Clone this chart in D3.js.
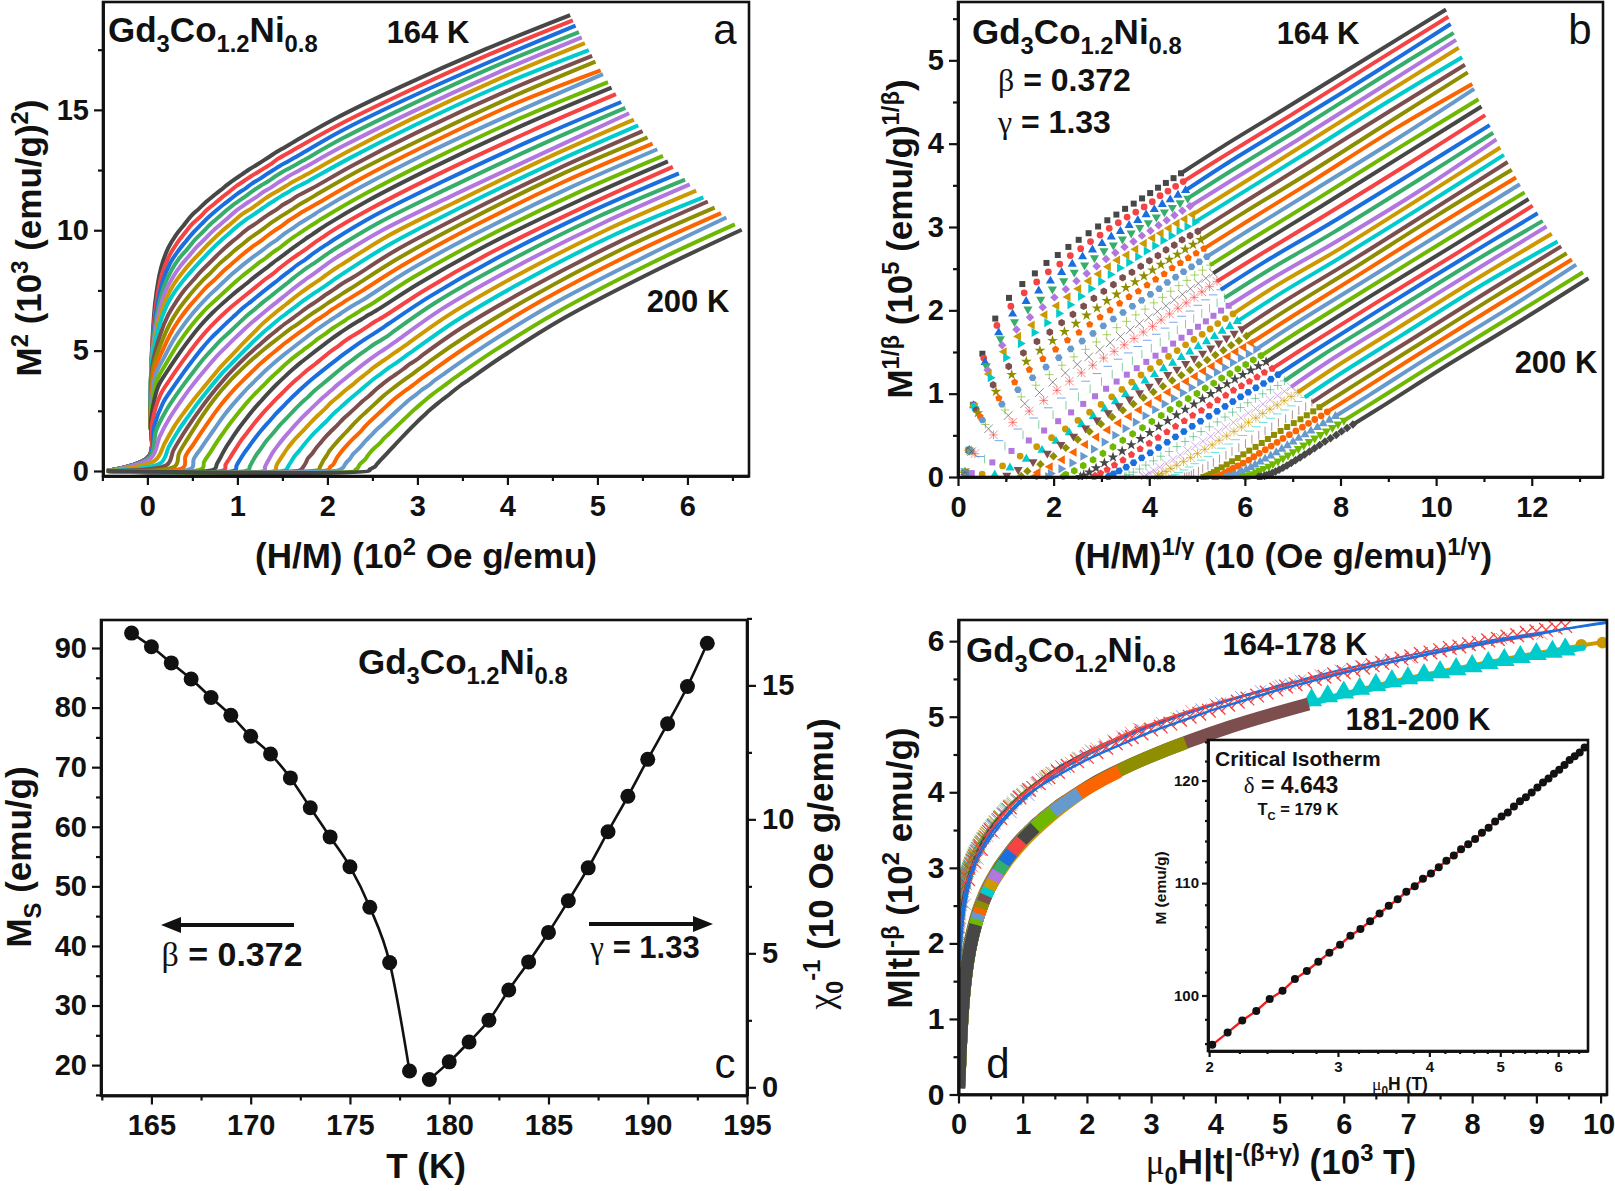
<!DOCTYPE html>
<html>
<head>
<meta charset="utf-8">
<script src="https://cdn.jsdelivr.net/npm/d3@7"></script>
<style>
  html, body { margin: 0; background: #fff; }
  text { font-family: "Liberation Sans", Arial, sans-serif; fill: #111; }
  .axis path, .axis line { stroke: #111; }
  .axis path { stroke-width: 2.6; }
  .axis line { stroke-width: 2.2; }
</style>
</head>
<body>
<script>
// isotherm temperatures (K), one row of M per temperature
var temps = d3.range(164, 201);
// applied field steps (Oe), one column of M per step
var fieldsOe = [1000,2000,3000,4000,5000,6000,7000,8000,9000,10000,11000,12000,13000,14000,15000,16000,17000,18000,19000,20000,21000,22000,23000,24000,30000,40000,55000,70000];
var demagN = 39;
var beta = 0.372, gamma = 1.33, tcScaling = 179.55;
var isoM = [
[24.6,47.5,68.7,83.8,92,96.3,99,101,102.9,104.3,105.7,106.9,108,109.1,110.1,111,111.9,112.7,113.5,114.3,115.1,115.8,116.5,117.2,121,126.1,132.4,137.6],
[24.6,47.5,68.6,82.7,90.5,94.6,97.3,99.4,101.3,102.7,104.2,105.4,106.6,107.7,108.8,109.7,110.6,111.4,112.2,113,113.9,114.6,115.3,116,119.8,125,131.5,136.8],
[24.6,47.5,68.4,81.6,88.9,93,95.6,97.7,99.6,101.2,102.7,104,105.2,106.3,107.4,108.3,109.3,110.1,111,111.8,112.6,113.3,114,114.7,118.7,124,130.5,136],
[24.6,47.5,68.3,80.6,87.4,91.3,94,96,98,99.6,101.2,102.5,103.8,105,106,107,108,108.9,109.7,110.6,111.4,112.1,112.8,113.5,117.5,122.9,129.6,135],
[24.6,47.5,68.2,79.5,85.9,89.6,92.3,94.4,96.4,98,99.6,101,102.3,103.6,104.7,105.7,106.6,107.6,108.4,109.3,110.1,110.9,111.6,112.3,116.3,121.8,128.6,134.2],
[24.6,47.5,68,78.4,84.3,88,90.6,92.8,94.7,96.5,98.1,99.6,100.9,102.2,103.4,104.3,105.3,106.3,107.2,108,108.8,109.6,110.3,111,115.1,120.8,127.7,133.3],
[24.6,47.5,67.9,77.3,82.8,86.3,88.9,91.1,93.1,94.9,96.6,98.1,99.5,100.8,102,103,104,105,105.9,106.8,107.6,108.4,109.1,109.8,113.95,119.7,126.7,132.2],
[24.6,47.4,66.8,75.2,80.5,84,86.8,89,91.1,92.9,94.6,96.2,97.6,98.9,100.2,101.2,102.3,103.3,104.2,105.2,106,106.9,107.6,108.3,112.6,118.5,125.6,131.3],
[24.6,47.3,65.7,73.1,78.2,81.8,84.6,87,89.1,90.9,92.7,94.2,95.7,97,98.3,99.4,100.5,101.6,102.6,103.5,104.4,105.3,106.1,106.9,111.3,117.2,124.5,130.4],
[24.6,47.1,64.3,71,76,79.6,82.5,84.9,87.1,88.9,90.7,92.3,93.8,95.2,96.5,97.6,98.8,99.9,100.9,102,102.9,103.8,104.6,105.4,109.9,116,123.4,129],
[24.6,46.9,62.9,68.9,73.7,77.3,80.3,82.8,85,86.9,88.7,90.4,91.9,93.3,94.6,95.8,97,98.1,99.3,100.3,101.3,102.2,103.1,104,108.6,114.8,122.2,128.4],
[24.6,46.7,61,66.8,71.4,75.1,78.2,80.8,83,84.9,86.7,88.4,90,91.4,92.8,94,95.3,96.4,97.6,98.7,99.7,100.7,101.6,102.5,107.2,113.5,121.1,127.1],
[24.6,46.5,59.1,64.7,69.1,72.8,76,78.7,81,83,84.8,86.5,88,89.5,90.9,92.2,93.5,94.7,95.9,97,98.1,99.1,100.1,101.05,105.9,112.3,120,126.2],
[24.5,45.1,56.2,61.9,66.4,70.2,73.5,76.3,78.7,80.8,82.7,84.4,86,87.5,89,90.3,91.7,93,94.2,95.3,96.4,97.5,98.5,99.5,104.4,110.9,118.7,125.1],
[24.3,43,53.2,59,63.7,67.6,71,73.9,76.3,78.5,80.5,82.4,84,85.6,87.1,88.5,89.9,91.2,92.5,93.6,94.8,95.9,96.9,97.9,103,109.5,117.4,123.8],
[24,41,50.1,56.2,61,65,68.5,71.4,74,76.2,78.3,80.3,82,83.7,85.2,86.7,88.1,89.5,90.8,92,93.1,94.2,95.3,96.3,101.5,108.1,116.2,122.8],
[23.2,37.9,47,53.3,58.3,62.4,65.9,69,71.6,74,76.2,78.2,80,81.7,83.3,84.8,86.3,87.7,89,90.2,91.4,92.6,93.7,94.7,100,106.7,114.9,121.9],
[21,34.2,43.3,49.7,54.8,59,62.7,66,68.8,71.4,73.8,76,78.1,79.9,81.6,83.1,84.6,86,87.3,88.5,89.7,90.9,92,93,98.6,105.5,114,120.8],
[18.5,31.8,40.9,47.5,52.9,57.3,61.1,64.4,67.2,69.8,72.2,74.4,76.4,78.2,79.9,81.4,82.9,84.3,85.6,86.8,88,89.2,90.3,91.4,97.1,104.3,112.9,119.8],
[16.4,29.4,38.5,45.4,50.9,55.5,59.4,62.8,65.7,68.3,70.6,72.7,74.7,76.5,78.2,79.7,81.2,82.6,83.9,85.2,86.4,87.6,88.7,89.7,95.6,103,111.8,118.8],
[14.3,27,36.1,43.2,49,53.8,57.8,61.2,64.1,66.7,69,71.1,73,74.8,76.5,78,79.5,80.9,82.2,83.5,84.7,85.9,87,88.1,94.1,101.8,110.8,117.7],
[12.6,24.6,33.3,40.3,46.1,51,55.1,58.6,61.6,64.3,66.8,69,71,72.9,74.6,76.2,77.7,79.2,80.5,81.9,83.1,84.3,85.4,86.5,92.6,100.5,109.6,116.6],
[11.3,22.1,30.5,37.4,43.2,48.2,52.4,56,59.2,62,64.6,66.9,69,70.9,72.7,74.4,76,77.5,78.9,80.2,81.5,82.7,83.8,84.9,91.2,99.2,108.4,115.6],
[10,19.6,27.6,34.5,40.3,45.3,49.6,53.4,56.7,59.6,62.3,64.7,67,69,70.8,72.5,74.2,75.7,77.2,78.5,79.8,81,82.2,83.3,89.7,97.9,107.2,114.4],
[8.8,17.2,24.8,31.6,37.4,42.5,46.9,50.8,54.2,57.3,60.1,62.6,64.9,67,68.9,70.7,72.4,74,75.5,76.9,78.2,79.4,80.6,81.7,88.2,96.6,106,113.4],
[8,15.9,23,29.4,35.1,40,44.4,48.3,51.7,54.8,57.6,60.2,62.5,64.7,66.6,68.5,70.3,71.9,73.5,74.9,76.2,77.5,78.8,79.9,86.6,95.2,104.8,112.4],
[7.3,14.5,21.2,27.3,32.7,37.6,41.9,45.7,49.2,52.3,55.2,57.8,60.2,62.4,64.4,66.3,68.1,69.8,71.4,72.9,74.3,75.6,76.9,78.2,85.1,93.9,103.7,111.2],
[6.6,13.1,19.3,25.1,30.3,35.1,39.3,43.2,46.6,49.8,52.7,55.3,57.8,60,62.1,64.1,66,67.7,69.4,70.9,72.4,73.7,75,76.4,83.6,92.5,102.5,110],
[5.9,11.8,17.5,22.9,28,32.6,36.8,40.6,44.1,47.3,50.2,52.9,55.4,57.7,59.9,61.9,63.8,65.6,67.3,68.9,70.4,71.8,73.2,74.6,82,91.1,101.3,109.1],
[5.5,11,16.4,21.5,26.3,30.8,34.9,38.6,42,45.2,48.1,50.8,53.4,55.7,57.9,59.9,61.9,63.7,65.5,67.1,68.6,70.1,71.5,72.9,80.4,89.7,100.1,107.9],
[5.2,10.3,15.3,20.1,24.7,28.9,32.9,36.6,40,43.1,46,48.8,51.3,53.7,55.9,58,60,61.9,63.6,65.3,66.8,68.3,69.8,71.2,78.8,88.3,98.9,106.6],
[4.8,9.5,14.1,18.6,23,27,30.9,34.5,37.9,41,43.9,46.7,49.2,51.6,53.9,56,58.1,60,61.8,63.4,65,66.6,68,69.5,77.2,86.8,97.6,105.8],
[4.4,8.7,13,17.2,21.3,25.2,29,32.5,35.8,38.9,41.8,44.6,47.2,49.6,51.9,54.1,56.2,58.1,59.9,61.6,63.2,64.8,66.3,67.8,75.5,85.4,96.4,104.6],
[4.2,8.3,12.4,16.3,20.2,24,27.6,31,34.2,37.2,40,42.8,45.4,47.8,50.1,52.3,54.4,56.3,58.1,59.8,61.5,63.1,64.6,66.1,73.9,84,95.1,103.5],
[4,7.9,11.7,15.5,19.2,22.7,26.2,29.4,32.5,35.5,38.3,41,43.5,45.9,48.2,50.4,52.5,54.5,56.3,58.1,59.7,61.4,62.9,64.4,72.3,82.6,93.8,102.6],
[3.7,7.4,11,14.6,18.1,21.4,24.7,27.9,30.9,33.7,36.5,39.1,41.6,44,46.3,48.5,50.6,52.6,54.5,56.3,58,59.6,61.2,62.7,70.7,81.1,92.5,101.2],
[3.5,7,10.4,13.7,17,20.2,23.3,26.3,29.2,32,34.7,37.3,39.8,42.2,44.5,46.7,48.8,50.8,52.7,54.5,56.2,57.9,59.5,61,69.1,79.7,91.2,100.1]
];
// panel a: every isotherm starts from this first low field point
var firstHoverM = -0.45;

// panel c
var msTemps = d3.range(164, 179);
var msValues = [92.5,90.2,87.5,84.8,81.7,78.7,75.2,72.2,68.2,63.2,58.3,53.3,46.5,37.2,19];
var chiTemps = d3.range(179, 194);
var chiValues = [0.29,0.95,1.69,2.5,3.63,4.68,5.78,6.96,8.19,9.54,10.86,12.24,13.57,14.96,16.57];

// panel d: fit line, red crosses, cyan triangles and ochre tail
var fitX = [0.02,0.05,0.1,0.2,0.3,0.5,0.75,1,1.5,2,2.5,3,3.5,4,4.5,5,5.5,6,6.5,7,7.5,8,8.5,9,9.5,10.1];
var fitY = [1.7,2.3,2.65,2.95,3.15,3.45,3.7,3.92,4.2,4.43,4.62,4.8,4.95,5.1,5.23,5.36,5.47,5.58,5.68,5.77,5.86,5.94,6.02,6.09,6.17,6.25];
var crossX = [0.15,0.25,0.35,0.5,0.65,0.8,0.95,1.1,1.25,1.4,1.55,1.7,1.85,2,2.15,2.3,2.45,2.6,2.7,2.85,3,3.15,3.3,3.45,3.6,3.75,3.9,4.05,4.2,4.35,4.5,4.65,4.8,4.95,5.1,5.25,5.4,5.55,5.7,5.85,6,6.15,6.3,6.45,6.6,6.75,6.9,7.05,7.2,7.35,7.5,7.65,7.8,7.95,8.1,8.25,8.4,8.55,8.7,8.85,9,9.15,9.3,9.45];
var crossY = [2.85,3.08,3.25,3.5,3.66,3.8,3.93,4.03,4.12,4.2,4.27,4.35,4.41,4.47,4.53,4.59,4.65,4.7,4.73,4.78,4.83,4.87,4.91,4.96,5,5.04,5.08,5.12,5.16,5.2,5.24,5.28,5.32,5.36,5.4,5.43,5.46,5.5,5.53,5.56,5.59,5.62,5.65,5.68,5.71,5.74,5.77,5.8,5.83,5.85,5.88,5.91,5.93,5.96,5.98,6.01,6.03,6.06,6.08,6.11,6.13,6.15,6.18,6.2];
var cyanX = [5.5,5.75,6,6.25,6.5,6.75,7,7.25,7.5,7.75,8,8.25,8.5,8.75,9,9.25,9.45];
var cyanY = [5.22,5.27,5.32,5.37,5.42,5.47,5.51,5.55,5.59,5.63,5.67,5.71,5.75,5.79,5.83,5.86,5.89];
var ochreTailX = [9.7,10.03];
var ochreTailY = [5.95,5.98];

// inset: critical isotherm
var critH = [2.02,2.12,2.22,2.32,2.42,2.52,2.62,2.72,2.82,2.92,3.02,3.12,3.22,3.32,3.42,3.52,3.62,3.72,3.82,3.92,4.02,4.12,4.22,4.32,4.42,4.52,4.62,4.72,4.82,4.92,5.02,5.12,5.22,5.32,5.42,5.52,5.62,5.72,5.82,5.92,6.02,6.12,6.22,6.32,6.42,6.52];
var critM = [95.9,96.9,97.9,98.7,99.7,100.4,101.4,102.1,102.9,103.7,104.4,105.2,105.8,106.5,107.2,107.9,108.5,109.2,109.7,110.4,110.9,111.5,112.1,112.6,113.2,113.7,114.2,114.8,115.3,115.9,116.4,116.8,117.4,117.9,118.3,118.8,119.3,119.8,120.2,120.7,121.1,121.6,122.1,122.5,122.9,123.4];

var palette = ["#474747","#f54242","#1a6fdf","#37ad6b","#b177de","#cc9900","#00cbcc","#7d4e4e","#8e8e00","#fb6501","#6699cc","#6fb802"];
var shapes = ["square","circle","up","down","diamond","left","right","hex","star","pent","hex2","plus","x","aster","dash","bar"];
var colorOf = function(i) { return palette[i % 12]; };
var shapeOf = function(i) { return shapes[i % 16]; };

var svg = d3.select("body").append("svg").attr("width", 1615).attr("height", 1191);

/****Frames and scales****/
var boxA = {l:103, r:749, t:2, b:476};
var boxB = {l:958, r:1603, t:2, b:477};
var boxC = {l:101, r:747, t:620, b:1095.5};
var boxD = {l:958.5, r:1607, t:620, b:1094.5};
var boxI = {l:1208, r:1588, t:740, b:1051};

var xA = d3.scaleLinear().domain([-0.493, 6.684]).range([boxA.l, boxA.r]);
var yA = d3.scaleLinear().domain([-0.208, 19.48]).range([boxA.b, boxA.t]);
var xB = d3.scaleLinear().domain([0, 13.49]).range([boxB.l, boxB.r]);
var yB = d3.scaleLinear().domain([0, 5.70]).range([boxB.b, boxB.t]);
var xC = d3.scaleLinear().domain([162.46, 195]).range([boxC.l, boxC.r]);
var yC = d3.scaleLinear().domain([14.9, 94.7]).range([boxC.b, boxC.t]);
var yC2 = d3.scaleLinear().domain([-0.306, 17.44]).range([boxC.b, boxC.t]);
var xD = d3.scaleLinear().domain([0, 10.1]).range([boxD.l, boxD.r]);
var yD = d3.scaleLinear().domain([0, 6.28]).range([boxD.b, boxD.t]);
var xI = d3.scaleLog().domain([1.993, 6.59]).range([boxI.l, boxI.r]);
var yI = d3.scaleLog().domain([95.4, 124.2]).range([boxI.b, boxI.t]);

/****Helpers****/
function polygon(n, rot) {
  return { draw: function(ctx, size) {
    var r = Math.sqrt(size / 2.5);
    d3.range(n).forEach(function(j) {
      var a = rot + j * 2 * Math.PI / n;
      if (j === 0) ctx.moveTo(r * Math.sin(a), -r * Math.cos(a));
      else ctx.lineTo(r * Math.sin(a), -r * Math.cos(a));
    });
    ctx.closePath();
  }};
}
function drawMarker(g, kind, x, y, size, color, strong) {
  var s = Math.sqrt(size) * 0.72;
  if (["plus","x","aster","dash","bar"].indexOf(kind) >= 0) {
    var d = "";
    if (kind == "plus" || kind == "aster") d += "M" + (-s) + ",0L" + s + ",0M0," + (-s) + "L0," + s;
    if (kind == "x" || kind == "aster") d += "M" + (-s) + "," + (-s) + "L" + s + "," + s + "M" + (-s) + "," + s + "L" + s + "," + (-s);
    if (kind == "dash") d = "M" + (-s) + ",0L" + s + ",0";
    if (kind == "bar") d = "M0," + (-s) + "L0," + s;
    g.append("path").attr("d", d).attr("transform", "translate(" + x + "," + y + ")")
      .attr("fill", "none").attr("stroke", color).attr("stroke-width", strong ? 1.3 : 1).attr("stroke-opacity", strong ? 1 : 0.6);
    return;
  }
  var types = {square:d3.symbolSquare, circle:d3.symbolCircle, up:d3.symbolTriangle, down:d3.symbolTriangle,
    diamond:d3.symbolSquare, left:d3.symbolTriangle, right:d3.symbolTriangle, hex:polygon(6,0), star:d3.symbolStar,
    pent:polygon(5,0), hex2:polygon(6,0.5)};
  var rot = {down:180, diamond:45, left:-90, right:90}[kind] || 0;
  g.append("path").attr("d", d3.symbol().type(types[kind]).size(size)())
    .attr("transform", "translate(" + x + "," + y + ") rotate(" + rot + ")")
    .attr("fill", color);
}
// text with sub/superscripts and greek; parts are strings or [string, kind]
function label(x, y, parts, size, opts) {
  opts = opts || {};
  var t = svg.append("text").attr("font-size", size)
    .attr("font-weight", opts.normal ? "normal" : "bold")
    .attr("text-anchor", opts.anchor || "start");
  if (opts.rotate) t.attr("transform", "translate(" + x + "," + y + ") rotate(" + opts.rotate + ")");
  else t.attr("x", x).attr("y", y);
  var off = 0;
  parts.forEach(function(p) {
    var str = typeof p === "string" ? p : p[0];
    var kind = typeof p === "string" ? "" : p[1];
    var want = 0, fs = size;
    if (kind.indexOf("sub") >= 0) { want = size * 0.28; fs = size * 0.68; }
    if (kind.indexOf("sup") >= 0) { want = -size * 0.38; fs = size * 0.68; }
    var ts = t.append("tspan").attr("dy", want - off).attr("font-size", fs).text(str);
    if (kind.indexOf("g") === 0) ts.attr("font-family", "Liberation Serif").attr("font-weight", "normal");
    off = want;
  });
  return t;
}
function frame(box) {
  svg.append("rect").attr("x", box.l).attr("y", box.t)
    .attr("width", box.r - box.l).attr("height", box.b - box.t)
    .attr("fill", "none").attr("stroke", "#111").attr("stroke-width", 2.6);
}
function bottomAxis(box, scale, major, minor, fs, fmt) {
  var g = svg.append("g").attr("class", "axis").attr("transform", "translate(0," + box.b + ")");
  g.call(d3.axisBottom(scale).tickValues(minor).tickSize(5).tickFormat("").tickSizeOuter(0));
  var m = svg.append("g").attr("class", "axis").attr("transform", "translate(0," + box.b + ")");
  m.call(d3.axisBottom(scale).tickValues(major).tickSize(9).tickPadding(10).tickSizeOuter(0).tickFormat(fmt || d3.format("d")));
  m.selectAll("text").attr("font-size", fs).attr("font-weight", "bold").attr("font-family", "Liberation Sans");
  return m;
}
function leftAxis(box, scale, major, minor, fs) {
  var g = svg.append("g").attr("class", "axis").attr("transform", "translate(" + box.l + ",0)");
  g.call(d3.axisLeft(scale).tickValues(minor).tickSize(5).tickFormat("").tickSizeOuter(0));
  var m = svg.append("g").attr("class", "axis").attr("transform", "translate(" + box.l + ",0)");
  m.call(d3.axisLeft(scale).tickValues(major).tickSize(9).tickPadding(5).tickSizeOuter(0).tickFormat(d3.format("d")));
  m.selectAll("text").attr("font-size", fs).attr("font-weight", "bold").attr("font-family", "Liberation Sans");
}
function hInt(i, k) { return fieldsOe[k] - demagN * isoM[i][k]; }
var smooth = d3.curveCatmullRom.alpha(0.5);
function clip(id, box) {
  svg.append("clipPath").attr("id", id).append("rect").attr("x", box.l).attr("y", box.t - 2)
    .attr("width", box.r - box.l).attr("height", box.b - box.t + 5);
}
clip("clipB", boxB); clip("clipD", boxD);

var tickFs = 29, labelFs = 35, noteFs = 31, formulaFs = 35;

/****Panel a****/
temps.forEach(function(T, i) {
  var pts = [[firstHoverM, 0]];
  fieldsOe.forEach(function(H, k) {
    pts.push([hInt(i, k) / isoM[i][k] / 100, isoM[i][k] * isoM[i][k] / 1000]);
  });
  svg.append("path").attr("d", d3.line().curve(smooth).x(function(d) { return xA(d[0]); }).y(function(d) { return yA(d[1]); })(pts))
    .attr("fill", "none").attr("stroke", colorOf(i)).attr("stroke-width", 4);
});
frame(boxA);
bottomAxis(boxA, xA, d3.range(0, 7), [-0.5,0.5,1.5,2.5,3.5,4.5,5.5,6.5], tickFs);
leftAxis(boxA, yA, [0,5,10,15], [2.5,7.5,12.5,17.5], tickFs);
label(108, 42, ["Gd", ["3","sub"], "Co", ["1.2","sub"], "Ni", ["0.8","sub"]], formulaFs);
label(428, 43, ["164 K"], noteFs, {anchor:"middle"});
label(688, 312, ["200 K"], noteFs, {anchor:"middle"});
label(725, 44, ["a"], 42, {anchor:"middle", normal:true});
label(426, 568, ["(H/M) (10", ["2","sup"], " Oe g/emu)"], labelFs, {anchor:"middle"});
label(41, 238, ["M", ["2","sup"], " (10", ["3","sup"], " (emu/g)", ["2","sup"], ")"], labelFs, {anchor:"middle", rotate:-90});

/****Panel b****/
var gB = svg.append("g").attr("clip-path", "url(#clipB)");
temps.forEach(function(T, i) {
  var pts = fieldsOe.map(function(H, k) {
    var m = isoM[i][k];
    return [Math.pow(hInt(i, k) / m, 1 / gamma) / 10, Math.pow(m, 1 / beta) / 1e5];
  });
  pts.slice(0, 24).forEach(function(p) {
    drawMarker(gB, shapeOf(i), xB(p[0]), yB(p[1]), 36, colorOf(i));
  });
  gB.append("path").attr("d", d3.line().curve(smooth).x(function(d) { return xB(d[0]); }).y(function(d) { return yB(d[1]); })(pts.slice(23)))
    .attr("fill", "none").attr("stroke", colorOf(i)).attr("stroke-width", 4);
});
frame(boxB);
bottomAxis(boxB, xB, d3.range(0, 13, 2), d3.range(1, 14, 2), tickFs);
leftAxis(boxB, yB, [0,1,2,3,4,5], [0.5,1.5,2.5,3.5,4.5,5.5], tickFs);
label(972, 44, ["Gd", ["3","sub"], "Co", ["1.2","sub"], "Ni", ["0.8","sub"]], formulaFs);
label(1318, 44, ["164 K"], noteFs, {anchor:"middle"});
label(998, 91, [["β","g"], " = 0.372"], 32);
label(998, 133, [["γ","g"], " = 1.33"], 32);
label(1580, 44, ["b"], 42, {anchor:"middle", normal:true});
label(1556, 373, ["200 K"], noteFs, {anchor:"middle"});
label(1283, 568, ["(H/M)", ["1/γ","sup"], " (10 (Oe g/emu)", ["1/γ","sup"], ")"], labelFs, {anchor:"middle"});
label(912, 239, ["M", ["1/β","sup"], " (10", ["5","sup"], " (emu/g)", ["1/β","sup"], ")"], labelFs, {anchor:"middle", rotate:-90});

/****Panel c****/
var ms = msTemps.map(function(t, i) { return [t, msValues[i]]; });
var chi = chiTemps.map(function(t, i) { return [t, chiValues[i]]; });
var lineMs = d3.line().curve(d3.curveMonotoneX).x(function(d) { return xC(d[0]); }).y(function(d) { return yC(d[1]); });
var lineChi = d3.line().curve(d3.curveMonotoneX).x(function(d) { return xC(d[0]); }).y(function(d) { return yC2(d[1]); });
svg.append("path").attr("d", lineMs(ms)).attr("fill", "none").attr("stroke", "#111").attr("stroke-width", 2.6);
svg.append("path").attr("d", lineChi(chi)).attr("fill", "none").attr("stroke", "#111").attr("stroke-width", 2.6);
svg.selectAll(".ms").data(ms).enter().append("circle").attr("class", "ms")
  .attr("cx", function(d) { return xC(d[0]); }).attr("cy", function(d) { return yC(d[1]); }).attr("r", 7.5).attr("fill", "#111");
svg.selectAll(".chi").data(chi).enter().append("circle").attr("class", "chi")
  .attr("cx", function(d) { return xC(d[0]); }).attr("cy", function(d) { return yC2(d[1]); }).attr("r", 7.5).attr("fill", "#111");
frame(boxC);
bottomAxis(boxC, xC, d3.range(165, 196, 5), d3.range(167.5, 195, 5).concat([162.5]), tickFs);
leftAxis(boxC, yC, d3.range(20, 91, 10), d3.range(15, 95, 10), tickFs);
var rightMinor = svg.append("g").attr("class", "axis").attr("transform", "translate(" + boxC.r + ",0)");
rightMinor.call(d3.axisRight(yC2).tickValues([2.5,7.5,12.5,17.5]).tickSize(5).tickFormat("").tickSizeOuter(0));
var rightMajor = svg.append("g").attr("class", "axis").attr("transform", "translate(" + boxC.r + ",0)");
rightMajor.call(d3.axisRight(yC2).tickValues([0,5,10,15]).tickSize(9).tickPadding(6).tickSizeOuter(0).tickFormat(d3.format("d")));
rightMajor.selectAll("text").attr("font-size", tickFs).attr("font-weight", "bold").attr("font-family", "Liberation Sans");
label(358, 674, ["Gd", ["3","sub"], "Co", ["1.2","sub"], "Ni", ["0.8","sub"]], formulaFs);
label(232, 966, [["β","g"], " = 0.372"], 34, {anchor:"middle"});
label(645, 958, [["γ","g"], " = 1.33"], 31, {anchor:"middle"});
label(725, 1078, ["c"], 42, {anchor:"middle", normal:true});
label(426, 1178, ["T (K)"], labelFs, {anchor:"middle"});
label(31, 857, ["M", ["S","sub"], " (emu/g)"], labelFs, {anchor:"middle", rotate:-90});
label(833, 864, [["χ","g"], ["0","sub"], ["-1","sup"], " (10 Oe g/emu)"], labelFs, {anchor:"middle", rotate:-90});
// arrows
var defs = svg.append("defs");
defs.append("marker").attr("id", "arrowHead").attr("markerWidth", 6).attr("markerHeight", 4).attr("refX", 1).attr("refY", 2)
  .attr("orient", "auto").attr("markerUnits", "strokeWidth")
  .append("path").attr("d", "M0,0L5,2L0,4Z").attr("fill", "#111");
svg.append("line").attr("x1", 294).attr("x2", 177).attr("y1", 925).attr("y2", 925)
  .attr("stroke", "#111").attr("stroke-width", 4).attr("marker-end", "url(#arrowHead)");
svg.append("line").attr("x1", 589).attr("x2", 697).attr("y1", 924).attr("y2", 924)
  .attr("stroke", "#111").attr("stroke-width", 4).attr("marker-end", "url(#arrowHead)");

/****Panel d****/
var gD = svg.append("g").attr("clip-path", "url(#clipD)");
var lineD = d3.line().curve(smooth).x(function(d) { return xD(d[0]); }).y(function(d) { return yD(d[1]); });
function scaled(i) {
  var t = Math.abs(temps[i] - tcScaling) / tcScaling;
  return fieldsOe.map(function(H, k) {
    return [hInt(i, k) / 1e4 * Math.pow(t, -(beta + gamma)) / 1000, isoM[i][k] * Math.pow(t, -beta) / 100];
  });
}
// 164-178 K branch
d3.range(0, 15).forEach(function(i) {
  var pts = scaled(i);
  gD.append("path").attr("d", lineD(pts)).attr("fill", "none").attr("stroke", colorOf(i)).attr("stroke-width", 2);
  pts.forEach(function(p) { drawMarker(gD, "x", xD(p[0]), yD(p[1]), 60, colorOf(i)); });
});
crossX.forEach(function(x, j) { drawMarker(gD, "x", xD(x), yD(crossY[j]), 90, "#f54242", true); });
gD.append("path").attr("d", lineD(fitX.map(function(x, j) { return [x, fitY[j]]; })))
  .attr("fill", "none").attr("stroke", "#1a6fdf").attr("stroke-width", 2.4);
// 181-200 K branch, hotter isotherms on top
gD.append("path").attr("d", lineD(ochreTailX.map(function(x, j) { return [x, ochreTailY[j]]; })))
  .attr("fill", "none").attr("stroke", "#cc9900").attr("stroke-width", 2.5);
ochreTailX.forEach(function(x, j) { drawMarker(gD, "circle", xD(x), yD(ochreTailY[j]), 110, "#cc9900"); });
d3.range(17, 37).forEach(function(i) {
  var width = i == 17 ? 4 : (i == 18 ? 6 : 13);
  gD.append("path").attr("d", lineD(scaled(i))).attr("fill", "none").attr("stroke", colorOf(i)).attr("stroke-width", width);
  if (i == 18) {
    cyanX.forEach(function(x, j) { drawMarker(gD, "up", xD(x), yD(cyanY[j]), 190, colorOf(i)); });
  }
});
frame(boxD);
var dBottom = bottomAxis(boxD, xD, d3.range(0, 11), d3.range(0.5, 10, 1), tickFs);
dBottom.selectAll("text").filter(function(d) { return d == 10; }).attr("dx", -2);
leftAxis(boxD, yD, d3.range(0, 7), d3.range(0.5, 6, 1), tickFs + 1);
label(966, 662, ["Gd", ["3","sub"], "Co", ["1.2","sub"], "Ni", ["0.8","sub"]], formulaFs);
label(1295, 655, ["164-178 K"], 31, {anchor:"middle"});
label(1418, 730, ["181-200 K"], 31, {anchor:"middle"});
label(998, 1078, ["d"], 42, {anchor:"middle", normal:true});
label(1281, 1174, [["μ","g"], ["0","sub"], "H|t|", ["-(β+γ)","sup"], " (10", ["3","sup"], " T)"], labelFs, {anchor:"middle"});
label(912, 868, ["M|t|", ["-β","sup"], " (10", ["2","sup"], " emu/g)"], labelFs, {anchor:"middle", rotate:-90});

/****Inset****/
svg.append("rect").attr("x", boxI.l).attr("y", boxI.t).attr("width", boxI.r - boxI.l).attr("height", boxI.b - boxI.t).attr("fill", "#fff");
var crit = critH.map(function(h, j) { return [h, critM[j]]; });
svg.append("path").attr("d", d3.line().x(function(d) { return xI(d[0]); }).y(function(d) { return yI(d[1]); })(crit))
  .attr("fill", "none").attr("stroke", "#f01e1e").attr("stroke-width", 2.4);
svg.selectAll(".crit").data(crit).enter().append("circle").attr("class", "crit")
  .attr("cx", function(d) { return xI(d[0]); }).attr("cy", function(d) { return yI(d[1]); }).attr("r", 4).attr("fill", "#111");
frame(boxI);
var iMinorX = [2.2,2.4,2.6,2.8,3.2,3.4,3.6,3.8,4.2,4.4,4.6,4.8,5.2,5.4,5.6,5.8,6.2,6.4];
var iMinorY = [96,98,102,104,106,108,112,114,116,118,122,124];
var ix = svg.append("g").attr("class", "axis").attr("transform", "translate(0," + boxI.b + ")");
ix.call(d3.axisBottom(xI).tickValues(iMinorX).tickSize(3).tickFormat("").tickSizeOuter(0));
var ixm = svg.append("g").attr("class", "axis").attr("transform", "translate(0," + boxI.b + ")");
ixm.call(d3.axisBottom(xI).tickValues([2,3,4,5,6]).tickSize(6).tickPadding(4).tickSizeOuter(0).tickFormat(d3.format("d")));
ixm.selectAll("text").attr("font-size", 15).attr("font-weight", "bold").attr("font-family", "Liberation Sans");
var iy = svg.append("g").attr("class", "axis").attr("transform", "translate(" + boxI.l + ",0)");
iy.call(d3.axisLeft(yI).tickValues(iMinorY).tickSize(3).tickFormat("").tickSizeOuter(0));
var iym = svg.append("g").attr("class", "axis").attr("transform", "translate(" + boxI.l + ",0)");
iym.call(d3.axisLeft(yI).tickValues([100,110,120]).tickSize(6).tickPadding(3).tickSizeOuter(0).tickFormat(d3.format("d")));
iym.selectAll("text").attr("font-size", 15).attr("font-weight", "bold").attr("font-family", "Liberation Sans");
label(1215, 766, ["Critical Isotherm"], 21);
label(1291, 793, [["δ","g"], " = 4.643"], 23, {anchor:"middle"});
label(1298, 815, ["T", ["C","sub"], " = 179 K"], 16.5, {anchor:"middle"});
label(1400, 1090, [["μ","g"], ["0","sub"], "H (T)"], 17.5, {anchor:"middle"});
label(1166, 888, ["M (emu/g)"], 15.5, {anchor:"middle", rotate:-90});
</script>
</body>
</html>
